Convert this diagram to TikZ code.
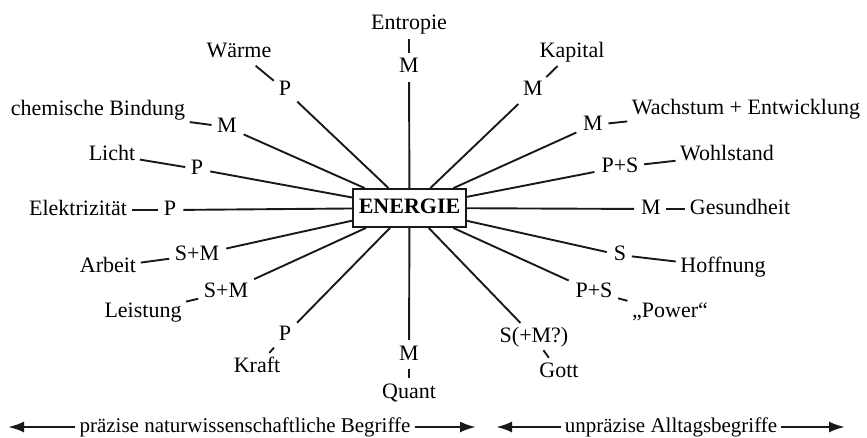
\documentclass[tikz,border=0pt]{standalone}
\usepackage{fontspec}
\setmainfont{Liberation Serif}
\usetikzlibrary{arrows.meta}

\begin{document}
\begin{tikzpicture}[
  x=1pt, y=-1pt,
  font=\fontsize{22}{26}\selectfont,
  >=Latex,
  every node/.style={align=center, text height=15pt, text depth=5pt, inner sep=2pt},
  kind/.style={inner xsep=3pt, inner ysep=1pt},
  ray/.style={draw=black!90, line width=1.9pt, shorten <=4pt},
  tick/.style={draw=black!90, line width=1.9pt, shorten <=2.5pt, shorten >=2.5pt},
  termbox/.style={rectangle, draw=black!90, fill=white, line width=1.8pt, inner sep=0pt, minimum width=113pt, minimum height=38pt, font=\fontsize{22}{26}\selectfont\bfseries},
  bigarr/.style={-{Latex[length=16pt,width=11pt]}, draw=black!90, line width=2.4pt},
  sidetext/.style={font=\fontsize{21}{25}\selectfont, inner xsep=4pt}
]
  \useasboundingbox (0,0) rectangle (867,437);

  % Centre term
  \node[termbox] (energie) at (409.5,208) {ENERGIE};

  % Left half: natural science terms
  \node (entropie) at (409,24) {Entropie};
  \node[kind] (k-entropie) at (409,67) {M};
  \node (waerme) at (239,52) {Wärme};
  \node[kind] (k-waerme) at (285,90) {P};
  \node (chemie) at (98,110) {chemische Bindung};
  \node[kind] (k-chemie) at (227,127) {M};
  \node (licht) at (112,155) {Licht};
  \node[kind] (k-licht) at (197,169) {P};
  \node (elektr) at (78,210) {Elektrizität};
  \node[kind] (k-elektr) at (170,210) {P};
  \node (arbeit) at (108,267) {Arbeit};
  \node[kind] (k-arbeit) at (197,255) {S+M};
  \node (leistung) at (143,312) {Leistung};
  \node[kind] (k-leistung) at (226,292) {S+M};
  \node (kraft) at (257,367) {Kraft};
  \node[kind] (k-kraft) at (285,335) {P};
  \node (quant) at (409,393) {Quant};
  \node[kind] (k-quant) at (409,355) {M};

  % Right half: everyday terms
  \node (gott) at (559,372) {Gott};
  \node[kind] (k-gott) at (534,337) {S(+M?)};
  \node (power) at (670,312) {„Power“};
  \node[kind] (k-power) at (594,292) {P+S};
  \node (hoffnung) at (723,267) {Hoffnung};
  \node[kind] (k-hoffnung) at (620,255) {S};
  \node (gesund) at (740,209) {Gesundheit};
  \node[kind] (k-gesund) at (651,209) {M};
  \node (wohlstand) at (727,155) {Wohlstand};
  \node[kind] (k-wohlstand) at (620,167) {P+S};
  \node (wachstum) at (746,109) {Wachstum + Entwicklung};
  \node[kind] (k-wachstum) at (593,125) {M};
  \node (kapital) at (572,52) {Kapital};
  \node[kind] (k-kapital) at (533,90) {M};

  % Rays to the centre
  \draw[ray] (k-entropie) -- (energie);
  \draw[ray] (k-waerme) -- (energie);
  \draw[ray] (k-chemie) -- (energie);
  \draw[ray] (k-licht) -- (energie);
  \draw[ray] (k-elektr) -- (energie);
  \draw[ray] (k-arbeit) -- (energie);
  \draw[ray] (k-leistung) -- (energie);
  \draw[ray] (k-kraft) -- (energie);
  \draw[ray] (k-quant) -- (energie);
  \draw[ray] (k-gott) -- (energie);
  \draw[ray] (k-power) -- (energie);
  \draw[ray] (k-hoffnung) -- (energie);
  \draw[ray] (k-gesund) -- (energie);
  \draw[ray] (k-wohlstand) -- (energie);
  \draw[ray] (k-wachstum) -- (energie);
  \draw[ray] (k-kapital) -- (energie);

  % Short ticks between term and kind
  \draw[tick] (entropie) -- (k-entropie);
  \draw[tick] (waerme) -- (k-waerme);
  \draw[tick] (chemie) -- (k-chemie);
  \draw[tick] (licht) -- (k-licht);
  \draw[tick] (elektr) -- (k-elektr);
  \draw[tick] (arbeit) -- (k-arbeit);
  \draw[tick] (leistung) -- (k-leistung);
  \draw[tick] (kraft) -- (k-kraft);
  \draw[tick] (quant) -- (k-quant);
  \draw[tick] (gott) -- (k-gott);
  \draw[tick] (power) -- (k-power);
  \draw[tick] (hoffnung) -- (k-hoffnung);
  \draw[tick] (gesund) -- (k-gesund);
  \draw[tick] (wohlstand) -- (k-wohlstand);
  \draw[tick] (wachstum) -- (k-wachstum);
  \draw[tick] (kapital) -- (k-kapital);

  % Bottom scale
  \node[sidetext] (praezise) at (245,427) {präzise naturwissenschaftliche Begriffe};
  \node[sidetext] (alltag) at (671,427) {unpräzise Alltagsbegriffe};
  \coordinate (a1) at (8,427);
  \coordinate (a2) at (476,427);
  \coordinate (a3) at (496,427);
  \coordinate (a4) at (845,427);
  \draw[bigarr] (praezise) -- (a1);
  \draw[bigarr] (praezise) -- (a2);
  \draw[bigarr] (alltag) -- (a3);
  \draw[bigarr] (alltag) -- (a4);

\end{tikzpicture}
\end{document}
